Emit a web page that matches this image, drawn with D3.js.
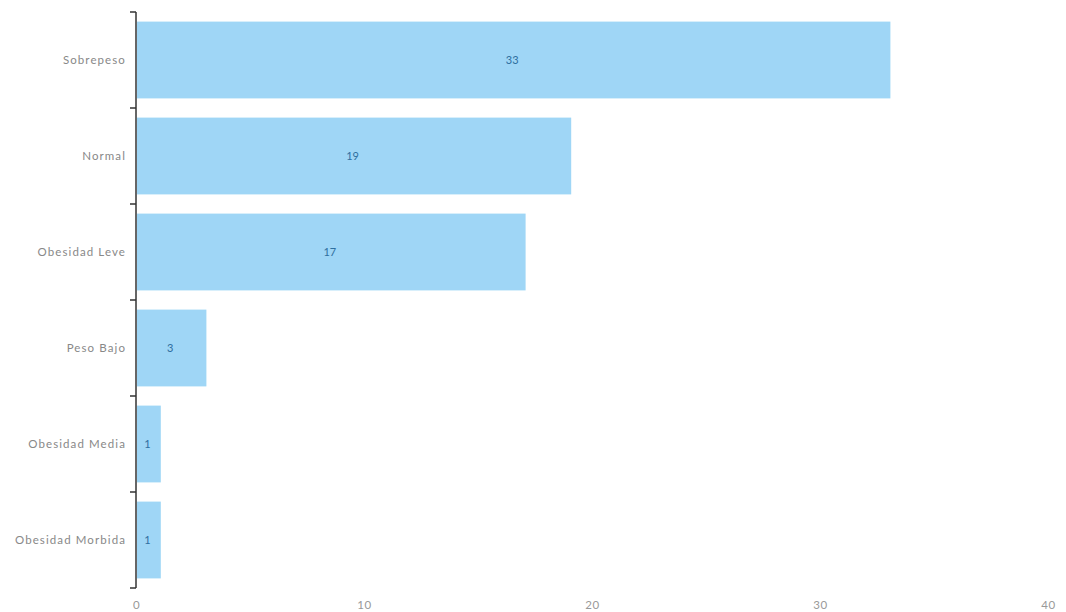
<!DOCTYPE html>
<html><head><meta charset="utf-8">
<script src="https://cdn.jsdelivr.net/npm/d3@7"></script>
<style>body{margin:0;background:#fff}</style>
</head><body>
<svg id="c" width="1066" height="612"></svg>
<script>
const categories = ["Sobrepeso","Normal","Obesidad Leve","Peso Bajo","Obesidad Media","Obesidad Morbida"];
const values = [33,19,17,3,1,1];
const xTicks = [0,10,20,30,40];

const svg = d3.select("#c");
const m = {left:136, right:18, top:12, bottom:24};
const W = 1066, H = 612;
const x = d3.scaleLinear().domain([0,40]).range([m.left, W - m.right]);
const y = d3.scaleBand().domain(categories).range([m.top, H - m.bottom]).paddingInner(0.2).paddingOuter(0.1);

const font = "Lato, 'Open Sans', sans-serif";

svg.selectAll("rect.bar").data(values).join("rect")
  .attr("class","bar")
  .attr("x", x(0)+1)
  .attr("y", (d,i)=>y(categories[i]))
  .attr("width", d=>x(d)-x(0)+1)
  .attr("height", y.bandwidth())
  .attr("fill", "#9fd6f6");

svg.selectAll("text.val").data(values).join("text")
  .attr("class","val")
  .attr("x", d=>(x(0)+x(d))/2)
  .attr("y", (d,i)=>y(categories[i]) + y.bandwidth()/2)
  .attr("dy","0.35em")
  .attr("text-anchor","middle")
  .attr("font-family", font)
  .attr("font-size", 11)
  .attr("fill", "#2f6f9f")
  .text(d=>d);

// y axis
const yAxis = d3.axisLeft(y).tickSize(0).tickPadding(10);
const gy = svg.append("g").attr("transform", `translate(${m.left},0)`).call(yAxis);
gy.select(".domain").remove();
gy.selectAll("text").attr("font-family", font).attr("font-size", 11.5)
  .attr("letter-spacing", "1.1px").attr("fill", "#888");

const bounds = d3.range(categories.length + 1).map(i => m.top + i * (H - m.bottom - m.top) / categories.length);
svg.append("line").attr("x1", m.left).attr("x2", m.left).attr("y1", bounds[0]).attr("y2", bounds[bounds.length-1])
  .attr("stroke", "#333").attr("stroke-width", 1.5);
svg.selectAll("line.bt").data(bounds).join("line").attr("class","bt")
  .attr("x1", m.left-6).attr("x2", m.left).attr("y1", d=>d).attr("y2", d=>d)
  .attr("stroke", "#333").attr("stroke-width", 1.5);

// x axis
const xAxis = d3.axisBottom(x).tickValues(xTicks).tickSize(0).tickPadding(13);
const gx = svg.append("g").attr("transform", `translate(0,${H - m.bottom})`).call(xAxis);
gx.select(".domain").remove();
gx.selectAll("text").attr("font-family", font).attr("font-size", 11.5)
  .attr("letter-spacing", "0.5px").attr("fill", "#999");
</script>
</body></html>
